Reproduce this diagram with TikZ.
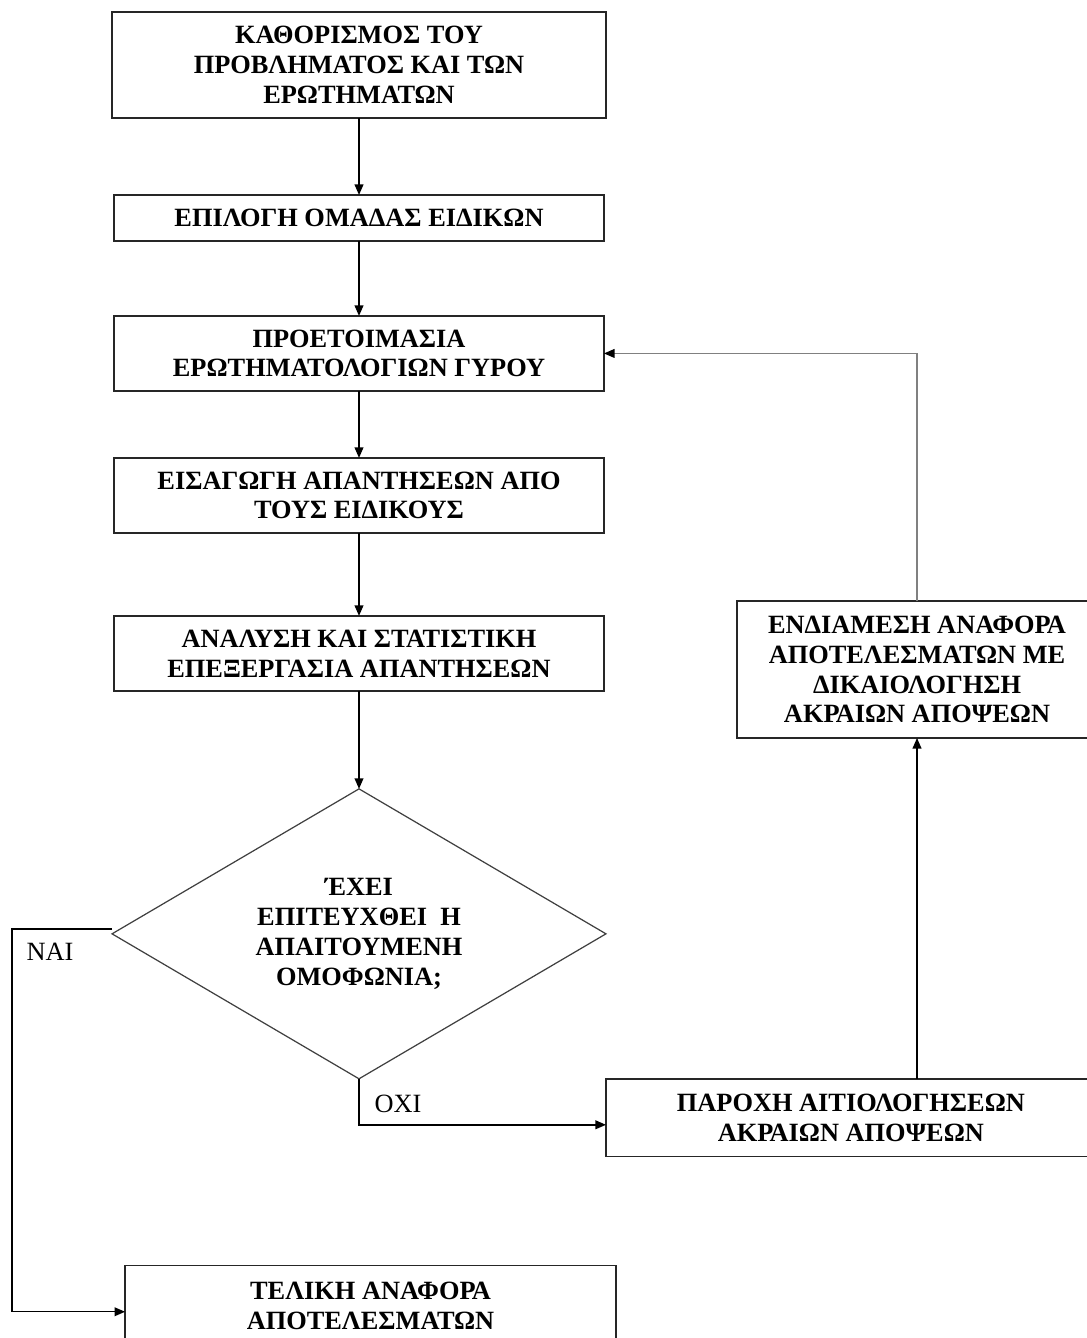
\documentclass[tikz,border=0pt]{standalone}
\usepackage{fontspec}
\setmainfont{Liberation Serif}
\usetikzlibrary{positioning,arrows.meta,shapes.geometric}
\tikzset{
  box/.style={draw=black!85, line width=0.8pt, align=center, font=\fontsize{15}{17}\selectfont\bfseries, inner sep=2pt, outer sep=0pt, minimum width=9.8cm, minimum height=1.5cm},
  dec/.style={diamond, draw=black!75, line width=0.7pt, align=center, font=\fontsize{15}{17}\selectfont\bfseries, aspect=1.7, minimum width=9.88cm, minimum height=5.8cm, inner sep=0pt, outer sep=0pt},
  arr/.style={-{Triangle[length=6pt,width=5pt]}, line width=0.8pt},
  fb/.style={-{Triangle[length=6pt,width=5pt,black]}, draw=black!50, line width=0.6pt},
  lab/.style={font=\fontsize{15}{17}\selectfont}
}
\begin{document}
\begin{tikzpicture}[x=0.02cm, y=-0.02cm]
\useasboundingbox (0,0) rectangle (1086,1338);
\node[box, minimum width=9.88cm, minimum height=2.12cm] (def) at (359,65) {ΚΑΘΟΡΙΣΜΟΣ ΤΟΥ\\ΠΡΟΒΛΗΜΑΤΟΣ ΚΑΙ ΤΩΝ\\ΕΡΩΤΗΜΑΤΩΝ};
\node[box, minimum height=0.92cm, below=1.54cm of def] (team) {ΕΠΙΛΟΓΗ ΟΜΑΔΑΣ ΕΙΔΙΚΩΝ};
\node[box, below=1.5cm of team] (prep) {ΠΡΟΕΤΟΙΜΑΣΙΑ\\ΕΡΩΤΗΜΑΤΟΛΟΓΙΩΝ ΓΥΡΟΥ};
\node[box, below=1.34cm of prep] (answ) {ΕΙΣΑΓΩΓΗ ΑΠΑΝΤΗΣΕΩΝ ΑΠΟ\\ΤΟΥΣ ΕΙΔΙΚΟΥΣ};
\node[box, below=1.66cm of answ] (anal) {ΑΝΑΛΥΣΗ ΚΑΙ ΣΤΑΤΙΣΤΙΚΗ\\ΕΠΕΞΕΡΓΑΣΙΑ ΑΠΑΝΤΗΣΕΩΝ};
\node[dec, below=1.96cm of anal] (cons) {ΈΧΕΙ\\ΕΠΙΤΕΥΧΘΕΙ \ Η\\ΑΠΑΙΤΟΥΜΕΝΗ\\ΟΜΟΦΩΝΙΑ;};
\node[box, minimum width=9.82cm, minimum height=1.6cm, below=3.74cm of cons, xshift=0.23cm] (final) {ΤΕΛΙΚΗ ΑΝΑΦΟΡΑ\\ΑΠΟΤΕΛΕΣΜΑΤΩΝ};
\node[box, minimum height=1.56cm, anchor=north west] (just) at (cons.east |- cons.south) {ΠΑΡΟΧΗ ΑΙΤΙΟΛΟΓΗΣΕΩΝ\\ΑΚΡΑΙΩΝ ΑΠΟΨΕΩΝ};
\node[box, minimum width=7.2cm, minimum height=2.74cm] (interim) at (917,669.5) {ΕΝΔΙΑΜΕΣΗ ΑΝΑΦΟΡΑ\\ΑΠΟΤΕΛΕΣΜΑΤΩΝ ΜΕ\\ΔΙΚΑΙΟΛΟΓΗΣΗ\\ΑΚΡΑΙΩΝ ΑΠΟΨΕΩΝ};
\node[lab] (yes) at (50,952) {ΝΑΙ};
\node[lab] (no) at (398,1104) {ΟΧΙ};
\draw[arr] (def)--(team); \draw[arr] (team)--(prep); \draw[arr] (prep)--(answ);
\draw[arr] (answ)--(anal); \draw[arr] (anal)--(cons);
\draw[arr] ([yshift=0.1cm]cons.west) -- ++(-100,0) |- ([yshift=-0.12cm]final.west);
\draw[arr] (cons.south) |- ([yshift=-0.14cm]just.west);
\draw[arr] (just.north -| interim.south) -- (interim.south);
\draw[fb] (interim.north) |- (prep.east);
\end{tikzpicture}
\end{document}
